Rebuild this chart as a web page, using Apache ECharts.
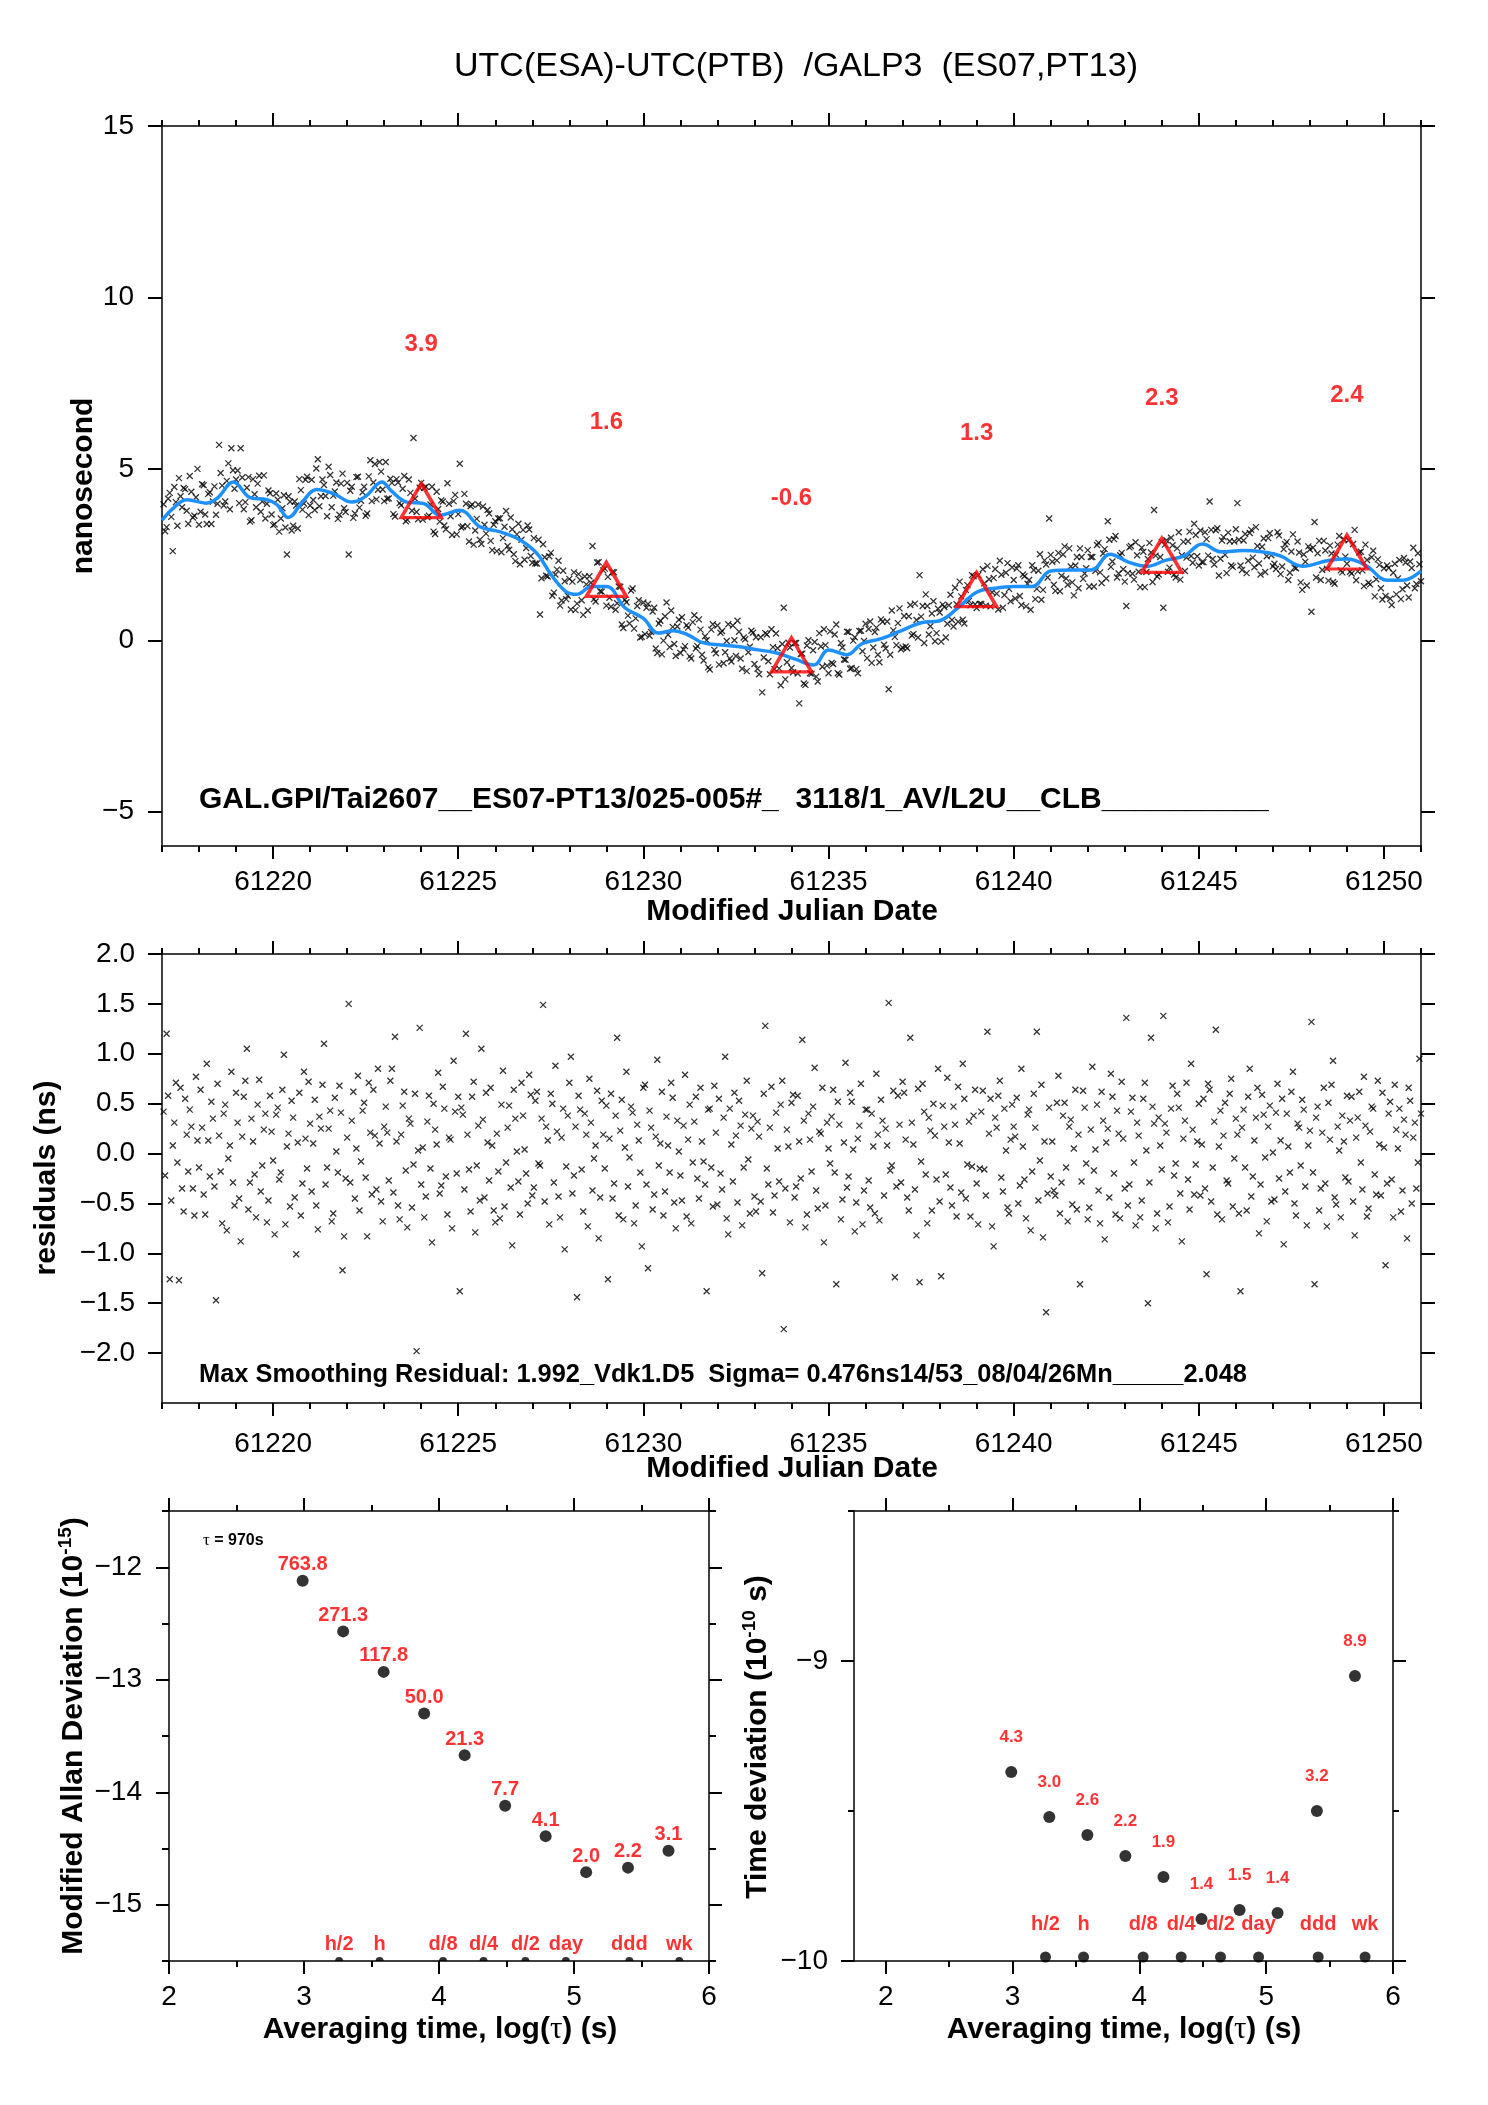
<!DOCTYPE html>
<html>
<head>
<meta charset="utf-8">
<title>UTC(ESA)-UTC(PTB) /GALP3 (ES07,PT13)</title>
<script src="https://cdn.jsdelivr.net/npm/echarts@6.0.0/dist/echarts.min.js"></script>
<style>
  html, body { margin: 0; padding: 0; background: #ffffff; }
  #chart { width: 1488px; height: 2105px; }
</style>
</head>
<body>
<div id="chart"></div>
<script>
// ========== data ==========
// raw and residual samples: 12 per day in each of two interleaved sets, from MJD 61217
const MJD_START = 61217;
const SAMPLES_PER_DAY = 12;

// top panel, raw UTC(ESA)-UTC(PTB) samples (ns), one row per day - set A
const rawNs = [
  3.97, 3.30, 4.30, 2.60, 4.03, 4.73, 3.88, 4.41, 3.40, 4.33, 3.63, 5.00,
  3.75, 4.52, 3.39, 4.32, 4.05, 3.66, 5.70, 4.51, 4.05, 5.16, 5.60, 4.42,
  4.95, 5.60, 3.82, 4.45, 3.46, 4.70, 3.88, 4.80, 4.05, 3.55, 4.37, 3.67,
  3.38, 4.10, 3.55, 4.23, 2.50, 4.04, 3.34, 3.93, 4.70, 3.81, 4.68, 3.65,
  4.68, 3.80, 5.28, 4.20, 4.53, 3.62, 4.82, 4.22, 4.60, 3.66, 4.86, 3.74,
  2.50, 4.48, 3.70, 4.77, 4.07, 4.48, 3.70, 5.25, 4.60, 4.11, 5.20, 4.40,
  5.20, 4.14, 4.59, 3.61, 4.60, 3.94, 4.79, 3.52, 4.30, 5.90, 3.74, 4.45,
  3.52, 4.48, 3.63, 4.48, 3.10, 3.83, 4.08, 3.35, 4.58, 3.62, 4.06, 3.09,
  5.15, 3.32, 3.98, 2.88, 3.96, 3.20, 3.96, 2.81, 3.37, 3.80, 2.90, 3.37,
  2.60, 3.56, 2.98, 3.77, 2.64, 3.24, 2.31, 3.40, 2.93, 2.35, 3.35, 2.46,
  2.98, 2.24, 0.75, 2.80, 1.88, 2.45, 1.30, 1.92, 2.32, 1.16, 1.72, 1.30,
  0.90, 1.98, 1.07, 1.76, 0.74, 1.63, 1.87, 2.75, 1.13, 2.28, 1.42, 2.09,
  1.85, 0.98, 1.98, 1.08, 1.56, 0.36, 1.11, 0.49, 1.51, 0.64, 1.17, 0.10,
  0.18, 1.06, 0.24, 0.95, -0.37, 0.57, -0.01, 1.10, -0.20, 0.39, -0.46, 0.60,
  0.67, -0.17, 0.37, -0.53, 0.73, -0.17, 0.31, -0.59, 0.00, -0.85, 0.47, -0.38,
  -0.71, 0.27, -0.35, 0.47, -0.62, 0.00, 0.57, -0.53, 0.08, -0.90, -0.19, 0.22,
  0.09, -0.99, -1.52, 0.21, -0.61, 0.32, -0.84, -0.23, -1.31, 0.95, -0.64, -0.21,
  -0.93, -0.08, -1.84, -0.39, -1.30, 0.00, -0.98, -0.05, -1.20, -0.18, 0.32, -0.74,
  0.26, -0.69, 0.46, -1.00, -0.21, -0.57, 0.24, -0.81, 0.09, -0.96, 0.28, -0.02,
  -0.52, 0.55, -0.21, 0.37, -0.64, 0.54, -0.24, -1.43, 0.87, 0.10, 0.50, -0.26,
  0.71, -0.23, 1.03, 0.18, 0.59, 1.90, 1.00, 1.34, 0.17, 0.78, -0.03, 0.92,
  -0.04, 0.97, 0.48, 1.33, 0.40, 1.05, 1.71, 0.60, 1.47, 1.15, 1.90, 1.05,
  1.90, 1.06, 1.66, 2.17, 0.99, 1.82, 1.36, 2.32, 0.95, 1.97, 1.50, 2.13,
  1.22, 2.19, 1.03, 1.87, 1.65, 0.89, 2.05, 1.50, 2.51, 1.47, 2.21, 3.55,
  2.29, 1.44, 2.55, 1.88, 2.74, 1.62, 2.15, 1.31, 2.43, 2.68, 1.79, 2.10,
  1.57, 2.43, 2.03, 2.84, 1.67, 2.66, 3.47, 2.14, 2.95, 1.83, 2.48, 2.07,
  1.00, 2.71, 1.94, 2.86, 2.00, 2.70, 1.55, 2.37, 2.56, 3.80, 1.86, 2.43,
  0.95, 2.92, 2.12, 2.77, 1.83, 3.15, 2.48, 2.02, 2.89, 2.46, 3.40, 2.45,
  3.20, 2.28, 2.95, 4.05, 2.37, 3.21, 1.89, 2.91, 2.49, 3.14, 2.18, 2.88,
  4.00, 2.18, 2.91, 1.96, 3.13, 2.41, 3.30, 2.24, 2.73, 1.99, 2.98, 2.48,
  2.23, 3.15, 1.93, 2.66, 2.87, 1.97, 3.09, 2.10, 2.56, 1.47, 2.29, 2.74,
  0.83, 3.45, 2.54, 1.76, 2.90, 2.09, 2.76, 1.70, 2.49, 3.04, 1.98, 2.44,
  2.92, 1.95, 3.22, 2.01, 2.58, 1.58, 2.34, 1.63, 2.61, 1.78, 2.20, 1.19,
  1.29, 2.11, 1.03, 2.23, 1.80, 1.20, 2.40, 1.60, 2.30, 2.70, 1.64, 2.22
];

// top panel raw samples - set B (between the set A samples)
const rawNsB = [
  3.18, 4.13, 3.60, 4.47, 3.34, 4.20, 4.44, 3.78, 4.79, 3.58, 4.17, 3.37,
  4.55, 3.67, 4.27, 3.39, 4.49, 3.98, 4.88, 3.93, 4.65, 3.82, 4.96, 4.69,
  4.00, 4.75, 4.03, 4.76, 3.50, 4.26, 4.57, 3.75, 4.81, 3.98, 4.29, 3.36,
  4.28, 3.17, 3.85, 3.29, 4.20, 3.20, 4.05, 3.26, 4.38, 3.99, 4.77, 3.93,
  4.09, 5.01, 3.91, 4.69, 4.21, 5.06, 3.88, 4.34, 3.54, 4.57, 3.85, 4.59,
  4.36, 3.57, 4.76, 3.87, 4.32, 3.63, 4.78, 4.06, 5.14, 4.39, 4.92, 4.06,
  4.13, 4.71, 3.68, 4.70, 4.00, 4.42, 3.47, 4.69, 3.78, 4.13, 3.53, 4.59,
  4.45, 3.59, 3.96, 3.17, 4.33, 3.46, 4.05, 3.24, 3.98, 3.07, 4.24, 3.68,
  3.29, 4.27, 3.33, 3.91, 2.79, 3.54, 2.93, 3.90, 3.11, 3.70, 2.63, 3.47,
  3.55, 2.57, 3.31, 2.75, 3.58, 2.51, 3.09, 2.22, 3.22, 2.69, 3.23, 2.26,
  2.24, 2.93, 1.81, 2.42, 1.86, 2.55, 1.39, 2.06, 1.01, 2.03, 1.20, 1.79,
  1.71, 0.88, 1.93, 1.17, 1.86, 0.87, 1.68, 1.20, 2.27, 1.43, 2.04, 1.01,
  1.24, 1.99, 0.89, 1.57, 0.46, 1.18, 0.72, 1.45, 0.34, 1.00, 0.08, 1.10,
  0.95, 0.13, 0.84, -0.24, 0.49, -0.41, 0.70, 0.16, 0.87, -0.11, 0.40, -0.37,
  -0.27, 0.44, -0.47, 0.53, -0.24, 0.61, -0.42, 0.12, -0.79, 0.31, -0.28, 0.43,
  0.22, -0.67, -0.02, -0.53, 0.43, -0.46, 0.25, -0.83, 0.03, -0.35, 0.28, -0.69,
  -0.83, 0.09, -0.50, 0.17, -0.99, -0.20, 0.20, -0.82, -0.11, -1.14, -0.07, -0.81,
  -0.08, -0.97, -0.40, -1.26, -0.15, -0.96, -0.29, -1.06, 0.21, -0.77, -0.14, -0.96,
  -0.66, 0.17, -0.96, -0.08, -0.56, 0.25, -0.83, -0.01, -0.84, 0.27, -0.32, 0.48,
  0.33, -0.66, 0.24, -0.42, 0.61, -0.13, 0.55, -0.42, 0.29, -0.14, 0.93, -0.21,
  -0.18, 0.70, 0.14, 1.07, 0.08, 0.69, -0.08, 1.00, 0.41, 1.14, 0.21, 0.81,
  1.04, 0.08, 1.02, 0.59, 1.53, 0.54, 1.28, 0.49, 1.61, 1.02, 1.87, 0.94,
  1.06, 2.07, 1.01, 1.78, 1.40, 2.08, 0.90, 1.91, 1.32, 2.25, 1.14, 1.76,
  2.09, 1.29, 1.92, 0.99, 1.76, 2.19, 1.20, 2.03, 1.18, 2.33, 1.83, 2.49,
  1.62, 2.33, 1.43, 2.50, 1.80, 2.68, 1.69, 2.18, 1.52, 2.43, 1.95, 2.63,
  2.43, 1.57, 2.78, 1.98, 2.53, 1.80, 2.93, 2.30, 3.04, 1.95, 2.55, 1.71,
  1.96, 2.75, 1.77, 2.48, 1.55, 2.58, 1.99, 2.84, 1.70, 2.47, 1.92, 2.87,
  2.79, 2.00, 2.99, 1.92, 2.68, 1.77, 2.87, 2.41, 3.17, 2.26, 3.07, 2.18,
  2.28, 3.15, 2.47, 3.22, 2.21, 3.27, 2.38, 3.01, 1.96, 2.89, 2.14, 3.24,
  2.93, 2.05, 3.10, 2.32, 3.22, 2.13, 2.75, 1.92, 2.97, 2.45, 3.12, 2.16,
  2.08, 3.06, 2.15, 2.80, 1.76, 2.59, 2.12, 2.88, 1.69, 2.50, 1.60, 2.65,
  2.70, 1.83, 2.90, 2.05, 2.62, 1.74, 2.53, 1.65, 2.79, 2.04, 2.94, 2.23,
  2.00, 2.81, 1.75, 2.56, 2.04, 2.79, 1.68, 2.42, 1.28, 2.36, 1.52, 2.10,
  2.18, 1.21, 1.97, 1.34, 2.34, 1.49, 2.27, 1.25, 2.11, 1.52, 2.54, 1.72
];

// middle panel, smoothing residuals (ns), one row per day - set A
const residualNs = [
  0.42, 1.20, -1.26, 0.08, 0.71, -1.27, -0.35, 0.55, -0.18, 0.27, -0.62, 0.13,
  0.64, -0.41, 0.90, -0.23, 0.35, -1.47, 0.18, -0.70, 0.49, -0.05, 0.82, -0.52,
  0.31, -0.88, 0.57, 1.05, -0.29, 0.12, -0.64, 0.74, -0.12, 0.40, -0.47, 0.22,
  -0.81, 0.46, -0.19, 0.99, 0.07, -0.53, 0.36, -1.01, 0.61, -0.30, 0.15, 0.72,
  -0.38, 0.54, -0.76, 0.25, 1.10, -0.14, 0.43, -0.60, 0.02, 0.68, -1.17, -0.25,
  1.50, 0.33, -0.45, 0.78, -0.08, 0.51, -0.83, 0.21, 0.64, -0.36, 0.10, -0.68,
  0.47, -0.27, 0.85, 1.17, -0.52, 0.19, 0.62, -0.74, 0.30, -0.11, -1.98, 1.26,
  0.06, -0.43, 0.58, -0.89, 0.24, 0.81, -0.32, 0.45, -0.61, 0.14, 0.93, -0.20,
  -1.38, 0.39, 1.20, -0.16, 0.57, -0.79, 0.28, 1.05, -0.44, 0.11, 0.66, -0.57,
  0.20, -0.65, 0.83, -0.09, 0.48, -0.92, 0.35, -0.28, 0.71, 0.04, -0.50, 0.59,
  -0.34, 0.62, -0.12, 1.49, 0.27, -0.71, 0.50, 0.88, -0.43, 0.16, -0.96, 0.38,
  0.97, -0.22, -1.44, 0.44, -0.58, 0.19, 0.75, -0.37, 0.08, -0.85, 0.53, -0.15,
  -1.26, 0.60, -0.30, 1.16, 0.23, -0.66, 0.82, -0.04, 0.41, -0.52, 0.13, -0.93,
  0.69, -1.15, 0.26, -0.41, 0.94, 0.10, -0.62, 0.37, -0.19, 0.56, -0.75, 0.02,
  -0.47, 0.79, 0.14, -0.70, 0.32, -0.25, 0.66, -0.08, -1.38, 0.45, -0.53, 0.21,
  0.55, -0.36, 0.97, -0.81, 0.09, 0.61, -0.49, 0.28, -0.14, 0.73, -0.60, 0.38,
  -0.58, 0.17, -1.20, 1.28, -0.31, 0.67, -0.42, 0.05, 0.49, -1.76, 0.24, -0.69,
  0.59, -0.33, 0.12, 1.14, -0.74, 0.40, -0.18, 0.86, -0.55, 0.20, -0.89, 0.31,
  -0.10, 0.64, -1.31, 0.29, -0.46, 0.91, -0.23, 0.52, -0.78, 0.15, 0.70, -0.37,
  0.44, -0.54, 0.07, 0.80, -0.67, 0.33, 0.25, 1.51, -0.12, -1.24, 0.58, -0.29,
  0.61, -0.44, 1.16, 0.09, -0.82, -1.29, 0.70, -0.21, 0.36, -0.57, 0.18, 0.85,
  -1.23, 0.27, 0.76, -0.34, 0.47, -0.63, 0.10, 0.90, -0.45, 0.32, -0.13, 0.64,
  -0.71, 0.42, -0.16, 1.22, 0.55, -0.93, 0.26, 0.73, -0.38, 0.03, -0.60, 0.49,
  0.17, -0.50, 0.85, -0.26, 0.39, -0.77, 0.60, 1.22, -0.07, -0.84, -1.59, 0.46,
  0.12, -0.42, 0.78, -0.29, 0.51, -0.68, 0.34, 0.05, -0.56, -1.31, 0.63, -0.10,
  -0.54, 0.87, 0.04, -0.37, 0.62, -0.86, 0.25, 0.80, -0.20, 0.43, -0.65, 0.15,
  1.36, -0.31, 0.56, -0.72, 0.18, -0.47, 0.71, -1.50, 1.16, 0.30, -0.60, 0.08,
  1.38, 0.21, -0.53, 0.68, -0.10, 0.46, -0.88, 0.33, -0.26, 0.90, -0.41, 0.12,
  -0.42, 0.55, -1.21, 0.64, -0.14, 1.24, 0.07, -0.66, 0.51, -0.30, 0.75, -0.05,
  0.19, -1.38, 0.44, -0.57, 0.85, -0.23, 0.36, -0.80, 0.59, -0.04, 0.27, -0.48,
  -0.46, 0.70, 0.13, -0.91, 0.40, -0.19, 0.82, -0.62, 0.26, 0.54, -0.33, 0.08,
  1.32, -1.31, 0.47, -0.35, 0.66, -0.73, 0.14, 0.93, -0.51, 0.03, 0.38, -0.24,
  -0.28, 0.57, -0.82, 0.36, -0.09, 0.77, -0.63, 0.22, 0.45, -0.41, 0.09, 0.61,
  -1.12, 0.40, -0.26, 0.69, 0.05, -0.58, 0.34, -0.85, 0.53, 0.16, -0.35, 0.95
];

// middle panel residuals - set B
const residualNsB = [
  -0.22, 0.58, -0.47, 0.31, -0.09, 0.66, -0.58, 0.19, 0.44, -0.35, 0.77, -0.14,
  0.26, -0.61, 0.13, 0.52, -0.33, 0.70, -0.18, 0.40, -0.77, 0.08, -0.29, 0.61,
  -0.45, 0.17, 0.73, -0.56, 0.35, -0.21, 0.49, -0.38, 0.24, -0.69, 0.58, -0.07,
  0.39, -0.26, 0.64, -0.71, 0.20, 0.53, -0.44, 0.11, -0.62, 0.82, -0.15, 0.30,
  0.10, -0.52, 0.37, 0.69, -0.31, 0.25, -0.68, 0.56, -0.19, 0.41, -0.83, 0.16,
  -0.29, 0.62, 0.05, -0.57, 0.43, -0.24, 0.71, -0.41, 0.18, 0.85, -0.48, 0.27,
  0.21, 0.73, -0.39, 0.12, -0.66, 0.48, -0.17, 0.35, -0.54, 0.60, 0.03, -0.31,
  -0.64, 0.32, -0.15, 0.50, 0.09, -0.40, 0.67, -0.23, 0.16, -0.75, 0.42, 0.57,
  0.46, -0.36, 0.19, -0.58, 0.72, -0.12, -0.47, 0.34, 0.61, -0.27, 0.08, -0.69,
  -0.18, 0.49, -0.53, 0.26, -0.34, 0.64, 0.02, -0.61, 0.38, -0.20, 0.79, -0.42,
  0.53, -0.10, 0.35, -0.48, 0.13, 0.60, -0.29, 0.22, -0.64, 0.45, -0.13, 0.71,
  -0.40, 0.27, 0.58, -0.16, 0.40, -0.73, 0.31, -0.05, 0.63, -0.44, 0.19, 0.48,
  0.15, -0.45, 0.38, -0.62, 0.54, 0.06, -0.33, 0.47, -0.70, 0.29, -0.19, 0.66,
  -0.31, 0.43, -0.56, 0.17, -0.12, 0.62, -0.38, 0.08, 0.71, -0.49, 0.33, -0.22,
  0.28, -0.63, 0.49, -0.09, 0.57, -0.45, 0.12, -0.31, 0.44, -0.14, 0.68, -0.51,
  -0.20, 0.36, -0.65, 0.45, -0.28, 0.18, 0.53, -0.72, 0.39, -0.06, 0.25, -0.43,
  0.32, -0.48, 0.60, -0.15, 0.26, -0.59, 0.41, -0.28, 0.73, -0.35, 0.07, 0.51,
  -0.44, 0.58, -0.25, 0.33, -0.61, 0.14, 0.47, -0.37, 0.22, 0.66, -0.52, 0.05,
  0.37, -0.19, 0.52, -0.66, 0.11, -0.34, 0.61, 0.04, -0.49, 0.28, -0.71, 0.44,
  -0.27, 0.40, -0.60, 0.19, 0.54, -0.42, 0.08, -0.17, 0.63, -0.33, 0.29, 0.72,
  0.14, -0.57, 0.31, -0.36, 0.65, -0.08, 0.42, -0.70, 0.23, 0.50, -0.26, -0.48,
  0.48, -0.21, 0.11, -0.52, 0.29, 0.67, -0.39, 0.55, -0.11, -0.63, 0.38, -0.30,
  -0.15, 0.63, -0.42, 0.20, -0.73, 0.36, 0.58, -0.24, 0.45, -0.54, 0.14, 0.27,
  0.56, -0.32, 0.07, -0.65, 0.44, -0.18, 0.26, -0.47, 0.69, 0.12, -0.40, -0.23,
  -0.37, 0.51, -0.60, 0.38, -0.14, 0.27, -0.51, 0.64, 0.19, -0.28, 0.46, -0.66,
  0.24, -0.17, 0.49, -0.70, 0.33, 0.11, -0.44, 0.57, -0.61, 0.20, 0.72, -0.35,
  -0.52, 0.42, -0.09, 0.31, -0.64, 0.55, 0.03, -0.29, 0.47, -0.75, 0.36, -0.16,
  0.30, -0.69, 0.45, -0.22, 0.60, -0.40, 0.15, 0.71, -0.56, 0.24, -0.11, 0.50,
  0.09, -0.35, 0.70, -0.48, 0.32, -0.61, 0.43, 0.18, -0.27, 0.60, -0.53, 0.35,
  -0.60, 0.26, -0.14, 0.57, -0.43, 0.13, 0.66, -0.31, 0.39, -0.68, 0.48, 0.01,
  0.41, -0.25, 0.55, -0.38, 0.07, 0.62, -0.50, 0.30, -0.12, 0.44, -0.72, 0.23,
  -0.19, 0.36, -0.57, 0.21, -0.30, 0.51, 0.69, -0.44, 0.27, -0.64, 0.12, 0.58,
  0.33, -0.48, 0.16, 0.62, -0.36, 0.28, -0.55, 0.47, -0.21, 0.73, -0.42, 0.06,
  -0.30, 0.52, -0.64, 0.24, 0.45, -0.37, 0.19, 0.66, -0.50, 0.31, -0.09, 0.40
];

// smoothed curve (blue)
const smoothMjd = [61217.0, 61217.3, 61217.67, 61218.2, 61218.5, 61218.93, 61219.38, 61219.83, 61220.1, 61220.41,
  61220.8, 61221.18, 61221.63, 61222.13, 61222.5, 61222.94, 61223.2, 61223.61, 61224.06, 61224.51,
  61225.05, 61225.59, 61226.14, 61226.68, 61227.13, 61227.5, 61227.9, 61228.2, 61228.6, 61229.0,
  61229.5, 61230.0, 61230.4, 61230.8, 61231.2, 61231.6, 61232.1, 61232.6, 61233.1, 61233.6,
  61234.1, 61234.6, 61235.0, 61235.5, 61235.9, 61236.4, 61236.9, 61237.5, 61238.0, 61238.5,
  61239.0, 61239.5, 61240.0, 61240.5, 61241.0, 61241.6, 61242.1, 61242.6, 61243.1, 61243.6,
  61244.1, 61244.6, 61245.1, 61245.6, 61246.2, 61246.7, 61247.2, 61247.8, 61248.5, 61249.0,
  61249.5, 61250.1, 61250.5, 61251.0];
const smoothNs = [3.50, 3.85, 4.10, 4.00, 4.15, 4.62, 4.16, 4.10, 3.96, 3.58,
  4.05, 4.40, 4.28, 4.03, 4.20, 4.62, 4.35, 4.03, 3.99, 3.65,
  3.79, 3.31, 3.16, 2.92, 2.53, 1.93, 1.43, 1.34, 1.57, 1.57,
  0.95, 0.64, 0.21, 0.28, 0.16, -0.07, -0.14, -0.19, -0.28, -0.37,
  -0.55, -0.72, -0.28, -0.42, -0.10, 0.04, 0.25, 0.51, 0.57, 0.95,
  1.40, 1.52, 1.57, 1.57, 2.02, 2.05, 2.05, 2.51, 2.28, 2.16,
  2.33, 2.46, 2.81, 2.58, 2.62, 2.58, 2.46, 2.16, 2.33, 2.37,
  2.19, 1.75, 1.75, 2.02];

// red triangles (5-day marks)
const markMjd = [61224, 61229, 61234, 61239, 61244, 61249];
const markNs = [3.9, 1.6, -0.6, 1.3, 2.3, 2.4];

// stability plots
const logTau = [2.99, 3.29, 3.59, 3.89, 4.19, 4.49, 4.79, 5.09, 5.40, 5.70];
const logModAdev = [-12.12, -12.57, -12.93, -13.30, -13.67, -14.12, -14.39, -14.71, -14.67, -14.52];
const modAdevText = ['763.8', '271.3', '117.8', '50.0', '21.3', '7.7', '4.1', '2.0', '2.2', '3.1'];
const logTdev = [-9.37, -9.52, -9.58, -9.65, -9.72, -9.86, -9.83, -9.84, -9.50, -9.05];
const tdevText = ['4.3', '3.0', '2.6', '2.2', '1.9', '1.4', '1.5', '1.4', '3.2', '8.9'];
const refLogTau = [3.26, 3.56, 4.03, 4.33, 4.64, 4.94, 5.41, 5.78];
const refNames = ['h/2', 'h', 'd/8', 'd/4', 'd/2', 'day', 'ddd', 'wk'];
const modAdevFloor = -15.5;
const tdevFloor = -10;

// tick label values
const mjdTicks = [61220, 61225, 61230, 61235, 61240, 61245, 61250];
const nsTicks = [-5, 0, 5, 10, 15];
const residTicks = [-2.0, -1.5, -1.0, -0.5, 0.0, 0.5, 1.0, 1.5, 2.0];
const logTauTicks = [2, 3, 4, 5, 6];
const logTauHalfTicks = [2.5, 3.5, 4.5, 5.5];
const adevTicks = [-15, -14, -13, -12];
const tdevTicks = [-10, -9];
const tdevHalfTicks = [-9.5, -8.5];

// ========== helpers ==========
const FONT = '"Liberation Sans", Arial, Helvetica, sans-serif';
const SERIF = '"Liberation Serif", "DejaVu Serif", serif';
const RED = '#ff0000';
const minus = s => String(s).replace('-', '\u2212');

const xAxes = [];
const yAxes = [];

function tick(len, values) {
    const t = { show: true, inside: false, length: len, lineStyle: { color: '#000', width: 2 } };
    if (values) t.customValues = values;
    return t;
}

// builds a boxed frame: labelled axis + minor tick axis on each of the four sides
function frame(gi, xr, yr) {
    const base = { type: 'value', gridIndex: gi, splitLine: { show: false }, silent: true, axisLabel: { show: false } };
    const line = { show: true, onZero: false, lineStyle: { color: '#000', width: 1.5 } };
    const noLine = { show: false, onZero: false };
    const label = (r, values) => ({
        show: true, customValues: values, formatter: r.fmt, margin: r.margin,
        color: '#000', fontFamily: FONT, fontSize: 28
    });
    let xMain, yMain;
    ['bottom', 'top'].forEach(pos => {
        xAxes.push(Object.assign({}, base, {
            min: xr.min, max: xr.max, position: pos, axisLine: line,
            axisTick: tick(xr.len, xr.major),
            axisLabel: pos === 'bottom' ? label(xr, xr.major) : { show: false }
        }));
        if (pos === 'bottom') xMain = xAxes.length - 1;
        if (xr.minor || xr.minorStep) {
            xAxes.push(Object.assign({}, base, {
                min: xr.min, max: xr.max, position: pos, interval: xr.minorStep,
                axisLine: noLine, axisTick: tick(xr.minorLen, xr.minor)
            }));
        }
    });
    ['left', 'right'].forEach(pos => {
        yAxes.push(Object.assign({}, base, {
            min: yr.min, max: yr.max, position: pos, axisLine: line,
            axisTick: tick(yr.len, yr.major),
            axisLabel: pos === 'left' ? label(yr, yr.labels || yr.major) : { show: false }
        }));
        if (pos === 'left') yMain = yAxes.length - 1;
        if (yr.minor || yr.minorStep) {
            yAxes.push(Object.assign({}, base, {
                min: yr.min, max: yr.max, position: pos, interval: yr.minorStep,
                axisLine: noLine, axisTick: tick(yr.minorLen, yr.minor)
            }));
        }
    });
    return { x: xMain, y: yMain };
}

const grids = [
    { left: 162, top: 126, width: 1259, height: 720 },
    { left: 162, top: 954, width: 1259, height: 449 },
    { left: 169, top: 1511, width: 540, height: 450 },
    { left: 854, top: 1511, width: 539, height: 450 }
].map(g => Object.assign({ outerBoundsMode: 'none', containLabel: false }, g));

const mjdRange = { min: 61217, max: 61251, major: mjdTicks, len: 13, minorStep: 1, minorLen: 6, fmt: v => String(v) };

const a0 = frame(0, Object.assign({}, mjdRange, { margin: 22 }),
    { min: -6, max: 15, major: nsTicks, len: 14, margin: 28, fmt: v => minus(v) });
const a1 = frame(1, Object.assign({}, mjdRange, { margin: 27 }),
    { min: -2.5, max: 2.0, major: residTicks, len: 14, margin: 27, fmt: v => minus(v.toFixed(1)) });
const a2 = frame(2,
    { min: 2, max: 6, major: logTauTicks, len: 13, minorStep: 0.5, minorLen: 6, margin: 22, fmt: v => String(v) },
    { min: -15.5, max: -11.5, major: adevTicks, len: 13, minorStep: 0.5, minorLen: 7, margin: 27, fmt: v => minus(v) });
const a3 = frame(3,
    { min: 1.75, max: 6, major: logTauTicks, len: 13, minor: logTauHalfTicks, minorLen: 6, margin: 22, fmt: v => String(v) },
    { min: -10, max: -8.5, major: tdevTicks, len: 13, minor: tdevHalfTicks, minorLen: 6, margin: 26, fmt: v => minus(v) });

// sample times: set A sits half a step after each grid point, set B on the next grid point
const sampleMjd = (i, phase) => MJD_START + (i + phase) / SAMPLES_PER_DAY;
const samples = (a, b) => a.map((v, i) => [sampleMjd(i, 0.5), v]).concat(b.map((v, i) => [sampleMjd(i, 1), v]));

const CROSS = 'path://M0,0L10,10M10,0L0,10';
const HALF_DISC = 'path://M0,10A10,10,0,0,1,20,10Z';
const crossStyle = { color: 'rgba(0,0,0,0)', borderColor: '#000', borderWidth: 1.3 };
const redBold = size => ({ color: RED, fontFamily: FONT, fontWeight: 'bold', fontSize: size });

const series = [
    {
        type: 'scatter', xAxisIndex: a0.x, yAxisIndex: a0.y, silent: true,
        symbol: CROSS, symbolSize: 6, itemStyle: crossStyle,
        data: samples(rawNs, rawNsB)
    },
    {
        type: 'line', xAxisIndex: a0.x, yAxisIndex: a0.y, silent: true,
        showSymbol: false, smooth: 0.4,
        lineStyle: { color: '#1e90ff', width: 3.5 },
        data: smoothMjd.map((m, i) => [m, smoothNs[i]])
    },
    {
        type: 'scatter', xAxisIndex: a0.x, yAxisIndex: a0.y, silent: true, z: 5,
        symbol: 'triangle', symbolSize: [40, 34], symbolOffset: [0, -6],
        itemStyle: { color: 'rgba(0,0,0,0)', borderColor: RED, borderWidth: 3.5 },
        label: Object.assign({ show: true, position: 'top', distance: 126,
            formatter: p => p.value[1].toFixed(1) }, redBold(24)),
        data: markMjd.map((m, i) => [m, markNs[i]])
    },
    {
        type: 'scatter', xAxisIndex: a1.x, yAxisIndex: a1.y, silent: true,
        symbol: CROSS, symbolSize: 6, itemStyle: crossStyle,
        data: samples(residualNs, residualNsB)
    },
    {
        type: 'scatter', xAxisIndex: a2.x, yAxisIndex: a2.y, silent: true,
        symbol: 'circle', symbolSize: 12, itemStyle: { color: '#000' },
        label: Object.assign({ show: true, position: 'top', distance: 0,
            formatter: p => modAdevText[p.dataIndex] }, redBold(20)),
        data: logTau.map((t, i) => [t, logModAdev[i]])
    },
    {
        type: 'scatter', xAxisIndex: a2.x, yAxisIndex: a2.y, silent: true, clip: false,
        symbol: HALF_DISC, symbolSize: [8, 4], symbolOffset: [0, -2], itemStyle: { color: '#000' },
        label: Object.assign({ show: true, position: 'top', distance: 3,
            formatter: p => refNames[p.dataIndex] }, redBold(20)),
        data: refLogTau.map(t => [t, modAdevFloor])
    },
    {
        type: 'scatter', xAxisIndex: a3.x, yAxisIndex: a3.y, silent: true,
        symbol: 'circle', symbolSize: 12, itemStyle: { color: '#000' },
        label: Object.assign({ show: true, position: 'top', distance: 20,
            formatter: p => tdevText[p.dataIndex] }, redBold(17)),
        data: logTau.map((t, i) => [t, logTdev[i]])
    },
    {
        type: 'scatter', xAxisIndex: a3.x, yAxisIndex: a3.y, silent: true, clip: false,
        symbol: 'circle', symbolSize: 11, symbolOffset: [0, -4], itemStyle: { color: '#000' },
        label: Object.assign({ show: true, position: 'top', distance: 17,
            formatter: p => refNames[p.dataIndex] }, redBold(20)),
        data: refLogTau.map(t => [t, tdevFloor])
    }
];

// ========== texts ==========
function text(x, y, str, opts) {
    return Object.assign({
        type: 'text', x: x, y: y, silent: true,
        style: Object.assign({ text: str, fill: '#000', fontFamily: FONT, fontSize: 30, fontWeight: 'bold',
            align: 'center', verticalAlign: 'middle' }, opts && opts.style)
    }, opts && opts.el);
}
const UP = { el: { rotation: Math.PI / 2 } };
const bold30 = { fontFamily: FONT, fontSize: 30, fontWeight: 'bold', fill: '#000', lineHeight: 36 };
const supStyle = { fontFamily: FONT, fontSize: 19, fontWeight: 'bold', fill: '#000', lineHeight: 36, verticalAlign: 'top' };
const tauStyle = { fontFamily: SERIF, fontSize: 31, fill: '#000', lineHeight: 36 };

const graphic = [
    text(796, 67, 'UTC(ESA)-UTC(PTB)  /GALP3  (ES07,PT13)', { style: { fontWeight: 'normal', fontSize: 34 } }),
    text(84, 486, 'nanosecond', UP),
    text(792, 912, 'Modified Julian Date'),
    text(199, 800, 'GAL.GPI/Tai2607__ES07-PT13/025-005#_  3118/1_AV/L2U__CLB__________', { style: { align: 'left' } }),
    text(47, 1178, 'residuals (ns)', UP),
    text(792, 1469, 'Modified Julian Date'),
    text(199, 1375, 'Max Smoothing Residual: 1.992_Vdk1.D5  Sigma= 0.476ns14/53_08/04/26Mn_____2.048', { style: { align: 'left', fontSize: 25.4 } }),
    text(203, 1541, '{t|\u03c4}{a| = 970s}', { style: { align: 'left',
        rich: { t: { fontFamily: SERIF, fontSize: 17, fill: '#000' }, a: { fontFamily: FONT, fontSize: 16, fontWeight: 'bold', fill: '#000' } } } }),
    text(74, 1736, '{a|Modified Allan Deviation (10}{s|-15}{a|)}', { el: UP.el, style: { rich: { a: bold30, s: supStyle } } }),
    text(440, 2030, '{a|Averaging time, log(}{t|\u03c4}{a|) (s)}', { style: { rich: { a: bold30, t: tauStyle } } }),
    text(758, 1737, '{a|Time deviation (10}{s|-10}{a| s)}', { el: UP.el, style: { rich: { a: bold30, s: supStyle } } }),
    text(1124, 2030, '{a|Averaging time, log(}{t|\u03c4}{a|) (s)}', { style: { rich: { a: bold30, t: tauStyle } } })
];

// ========== render ==========
const chart = echarts.init(document.getElementById('chart'), null, { renderer: 'canvas' });
chart.setOption({
    backgroundColor: '#ffffff',
    animation: false,
    grid: grids,
    xAxis: xAxes,
    yAxis: yAxes,
    series: series,
    graphic: graphic
});
</script>
</body>
</html>
